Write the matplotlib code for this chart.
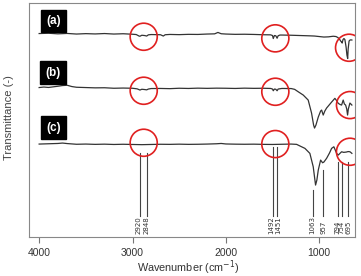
import numpy as np
import matplotlib
matplotlib.use('Agg')
import matplotlib.pyplot as plt

plt.rcParams['font.family'] = ['Liberation Sans', 'DejaVu Sans']

# 스펙트럼 데이터 (파수, 투과율 - 임의 단위, 오프셋 포함)
wn_a = [4000, 3900, 3800, 3700, 3600, 3500, 3400, 3300, 3200, 3100, 3000, 2960, 2930, 2920,
        2900, 2870, 2848, 2830, 2800, 2700, 2670, 2650, 2600, 2500, 2400, 2300, 2200, 2120,
        2085, 2050, 2000, 1900, 1800, 1700, 1600, 1520, 1500, 1492, 1480, 1465, 1451, 1440,
        1420, 1400, 1300, 1200, 1100, 1050, 1000, 950, 900, 850, 820, 800, 790, 780, 770,
        760, 754, 745, 735, 725, 712, 703, 695, 690, 680, 670, 660, 650]
tr_a = [203.5, 203.8, 203.2, 203.6, 203.0, 203.4, 203.1, 203.5, 203.0, 203.3, 202.8, 202.5,
        201.0, 200.8, 201.8, 201.5, 201.0, 202.2, 202.5, 202.3, 201.0, 202.3, 202.6, 202.4,
        202.7, 202.6, 203.0, 203.2, 204.6, 203.3, 203.0, 202.7, 202.8, 202.6, 202.3, 202.2,
        201.5, 198.5, 201.5, 201.3, 198.8, 201.3, 202.0, 202.0, 201.8, 201.5, 201.2, 201.0,
        200.5, 200.0, 200.2, 200.8, 200.5, 199.5, 198.5, 197.5, 196.0, 195.0, 194.0, 197.5,
        198.5, 197.5, 190.0, 182.0, 178.5, 188.0, 196.0, 197.0, 197.2, 197.0]

wn_b = [4000, 3950, 3900, 3850, 3800, 3750, 3700, 3650, 3600, 3500, 3400, 3300, 3200, 3100,
        3000, 2950, 2920, 2900, 2870, 2848, 2830, 2800, 2700, 2600, 2500, 2400, 2300, 2200,
        2100, 2000, 1900, 1800, 1700, 1600, 1520, 1500, 1492, 1480, 1465, 1451, 1440, 1400,
        1300, 1263, 1225, 1171, 1118, 1082, 1060, 1050, 1035, 1010, 985, 974, 957, 940, 921,
        867, 832, 810, 796, 775, 760, 743, 730, 717, 705, 696, 688, 671, 660, 650]
tr_b = [149.5, 150.0, 149.6, 150.2, 150.8, 151.5, 151.8, 150.5, 149.8, 149.5, 149.2, 149.3,
        148.8, 149.0, 148.8, 148.2, 147.0, 147.8, 147.5, 147.2, 148.0, 148.5, 148.6, 148.4,
        148.8, 148.6, 148.9, 148.7, 148.9, 148.8, 148.6, 148.9, 148.7, 148.8, 148.6, 148.0,
        146.3, 148.0, 147.8, 146.3, 148.0, 148.6, 148.5, 147.7, 145.3, 142.0, 137.0, 124.0,
        112.0, 109.0, 112.0, 120.0, 126.0, 127.0, 122.0, 126.0, 129.0, 135.0, 138.7, 136.0,
        133.7, 132.5, 132.0, 137.0, 133.0, 132.0, 128.0, 122.0, 128.0, 134.0, 133.0, 132.0]

wn_c = [4000, 3900, 3800, 3750, 3700, 3600, 3500, 3400, 3300, 3200, 3100, 3000, 2900, 2800,
        2700, 2600, 2500, 2400, 2300, 2200, 2100, 2050, 2000, 1900, 1800, 1700, 1600, 1500,
        1400, 1300, 1242, 1200, 1153, 1100, 1064, 1050, 1039, 1025, 1010, 985, 964, 950, 921,
        890, 867, 843, 813, 796, 780, 760, 738, 710, 690, 671, 660, 650]
tr_c = [93.0, 93.3, 93.6, 94.0, 93.5, 92.8, 93.0, 92.7, 92.9, 92.6, 92.8, 92.6, 92.4, 92.6,
        92.8, 92.7, 92.9, 92.7, 92.8, 93.0, 93.3, 93.6, 93.1, 92.9, 92.8, 92.9, 92.7, 92.6,
        92.8, 93.0, 92.7, 90.8, 88.7, 83.7, 70.3, 60.0, 52.0, 57.0, 67.0, 77.0, 74.3, 75.0,
        78.7, 84.0, 88.7, 90.3, 83.7, 82.0, 83.5, 85.3, 84.7, 85.0, 85.5, 85.3, 84.5, 83.7]

# 피크 표시선 (파수, 선 상단 위치)
peak_wn = [2920, 2848, 1492, 1451, 1063, 957, 794, 754, 695]
peak_top = [84.3, 84.3, 90.0, 90.0, 47.0, 67.0, 75.0, 75.0, 75.0]
peak_bottom = 21.0
# 라벨 글자 위치 (선보다 약간 벌어져 있음)
peak_text_wn = [2935, 2855, 1515, 1435, 1070, 955, 810, 762, 690]

# 원 표시 위치
circ_wn = [2880, 1470, 680, 2880, 1470, 670, 2880, 1470, 670]
circ_y = [200.3, 198.7, 189.3, 146.3, 145.3, 132.0, 94.3, 93.0, 85.3]

labels = ['(a)', '(b)', '(c)']
label_y = [216.0, 164.5, 109.5]

fig = plt.figure(figsize=(3.61, 2.76), dpi=100)
ax = fig.add_axes([0.080, 0.141, 0.903, 0.848])

for wn, tr in [(wn_a, tr_a), (wn_b, tr_b), (wn_c, tr_c)]:
	ax.plot(wn, tr, color='#333333', lw=0.9)

for w, t, tw in zip(peak_wn, peak_top, peak_text_wn):
	ax.plot([w, w], [peak_bottom, t], color='#444444', lw=0.8)
	ax.text(tw, 3.0, str(w), rotation=90, ha='center', va='bottom',
			fontsize=5.0, color='#333333', family=['DejaVu Sans'])

ax.scatter(circ_wn, circ_y, s=380, facecolors='none', edgecolors='#e02020', linewidths=1.2, zorder=5)

for lab, y in zip(labels, label_y):
	ax.text(3848, y, lab, ha='center', va='center', fontsize=8.5, fontweight='bold', color='white',
			bbox=dict(boxstyle='square,pad=0.45', facecolor='black', edgecolor='black'))

ax.set_xlim(4110, 618)
ax.set_ylim(0, 234)
ax.set_xticks([4000, 3000, 2000, 1000])
ax.set_yticks([])
ax.tick_params(axis='x', direction='out', length=4, width=0.8, color='#777777',
			   labelsize=7.5, labelcolor='#333333', pad=4)
for sp in ax.spines.values():
	sp.set_color('#888888')
	sp.set_linewidth(0.8)

ax.set_xlabel('Wavenumber (cm$^{-1}$)', fontsize=7.8, color='#333333')
ax.xaxis.set_label_coords(0.49, -0.09)
ax.set_ylabel('Transmittance (-)', fontsize=8, color='#444444')
ax.yaxis.set_label_coords(-0.045, 0.51)

fig.savefig('out.png', dpi=100)
